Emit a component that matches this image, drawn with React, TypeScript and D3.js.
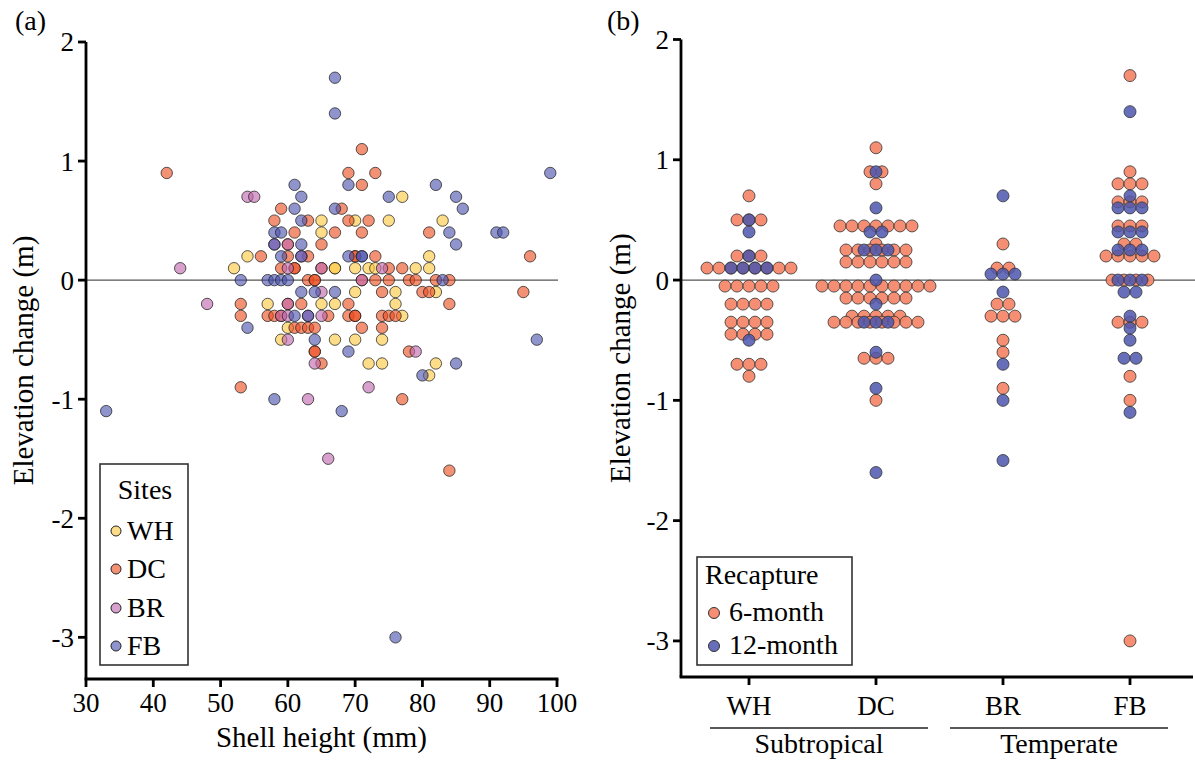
import React from 'react';
import * as d3 from 'd3';

// ---------- data ----------
const siteNames = ['WH', 'DC', 'BR', 'FB'];
const siteColors = ['#FDC840', '#EB4D20', '#C067AF', '#4B53AF'];
const groupNames = ['Subtropical', 'Temperate'];
const xTicksA = [30, 40, 50, 60, 70, 80, 90, 100];
const yTicks = [-3, -2, -1, 0, 1, 2];
const recaptureNames = ['6-month', '12-month'];
const recaptureColors = ['#F4886A', '#4C56AE'];

// Panel (a): [shell height (mm), elevation change (m)]
const whPoints: [number, number][] = [
  [77, 0.7], [65, 0.5], [70, 0.5], [75, 0.5], [83, 0.5], [65, 0.4], [54, 0.2], [81, 0.2],
  [52, 0.1], [67, 0.1], [67, 0.1], [70, 0.1], [72, 0.1], [73, 0.1], [79, 0.1], [81, 0.1],
  [70, -0.1], [76, -0.1], [82, -0.1], [57, -0.2], [65, -0.2], [67, -0.2], [76, -0.2],
  [77, -0.3], [60, -0.4], [59, -0.5], [67, -0.5], [70, -0.5], [74, -0.5],
  [72, -0.7], [74, -0.7], [82, -0.7], [81, -0.8],
];
const dcPoints: [number, number][] = [
  [71, 1.1], [42, 0.9], [69, 0.9], [73, 0.9], [71, 0.8], [59, 0.6], [68, 0.6],
  [58, 0.5], [63, 0.5], [69, 0.5], [72, 0.5], [61, 0.4], [67, 0.4], [71, 0.4], [81, 0.4],
  [60, 0.3], [65, 0.3], [56, 0.2], [60, 0.2], [63, 0.2], [70, 0.2], [70, 0.2], [73, 0.2], [96, 0.2],
  [59, 0.1], [61, 0.1], [61, 0.1], [65, 0.1], [75, 0.1], [77, 0.1],
  [63, 0], [64, 0], [64, 0], [71, 0], [73, 0], [75, 0], [78, 0], [79, 0], [82, 0], [84, 0],
  [74, -0.1], [80, -0.1], [81, -0.1], [95, -0.1],
  [53, -0.2], [60, -0.2], [62, -0.2], [69, -0.2], [84, -0.2],
  [53, -0.3], [57, -0.3], [58, -0.3], [59, -0.3], [66, -0.3], [69, -0.3], [70, -0.3], [70, -0.3],
  [74, -0.3], [75, -0.3], [76, -0.3],
  [61, -0.4], [62, -0.4], [63, -0.4], [64, -0.4], [71, -0.4], [74, -0.4],
  [64, -0.6], [64, -0.6], [78, -0.6], [65, -0.7], [53, -0.9], [77, -1.0], [84, -1.6],
];
const brPoints: [number, number][] = [
  [54, 0.7], [55, 0.7], [58, 0.3], [60, 0.3], [62, 0.2], [44, 0.1], [60, 0.1], [65, 0.1], [74, 0.1],
  [71, 0], [65, -0.1], [48, -0.2], [60, -0.2], [59, -0.3], [60, -0.3], [63, -0.3], [65, -0.3],
  [60, -0.5], [79, -0.6], [64, -0.7], [72, -0.9], [63, -1.0], [66, -1.5],
];
const fbPoints: [number, number][] = [
  [67, 1.7], [67, 1.4], [99, 0.9], [61, 0.8], [69, 0.8], [82, 0.8], [62, 0.7], [75, 0.7], [85, 0.7],
  [61, 0.6], [67, 0.6], [86, 0.6], [62, 0.5], [58, 0.4], [59, 0.4], [84, 0.4], [91, 0.4], [92, 0.4],
  [58, 0.3], [62, 0.3], [85, 0.3], [59, 0.2], [62, 0.2], [69, 0.2], [71, 0.2], [71, 0.2],
  [53, 0], [57, 0], [58, 0], [59, 0], [60, 0], [83, 0], [62, -0.1], [64, -0.1], [67, -0.1],
  [61, -0.3], [63, -0.3], [54, -0.4], [64, -0.5], [97, -0.5], [69, -0.6], [85, -0.7], [80, -0.8],
  [58, -1.0], [33, -1.1], [68, -1.1], [76, -3.0],
];
const sitePoints = [whPoints, dcPoints, brPoints, fbPoints];

// Panel (b): elevation change (m) per site and recapture
const whSixMonth = [0.7, 0.5, 0.5, 0.5, 0.2, 0.2, 0.2, 0.1, 0.1, 0.1, 0.1, 0.1, 0.1, 0.1, 0.1,
  -0.05, -0.05, -0.05, -0.05, -0.05, -0.2, -0.2, -0.2, -0.2, -0.35, -0.35, -0.35, -0.35,
  -0.45, -0.45, -0.45, -0.45, -0.7, -0.7, -0.7, -0.8];
const whTwelveMonth = [0.5, 0.4, 0.2, 0.1, 0.1, 0.1, 0.1, -0.5];
const dcSixMonth = [1.1, 0.9, 0.9, 0.8, 0.45, 0.45, 0.45, 0.45, 0.45, 0.45, 0.45, 0.3,
  0.25, 0.25, 0.25, 0.25, 0.25, 0.25, 0.15, 0.15, 0.15, 0.15, 0.15, 0.15,
  -0.05, -0.05, -0.05, -0.05, -0.05, -0.05, -0.05, -0.05, -0.05, -0.05,
  -0.15, -0.15, -0.15, -0.15, -0.15, -0.15, -0.3, -0.3, -0.3, -0.3, -0.3,
  -0.35, -0.35, -0.35, -0.35, -0.35, -0.35, -0.35, -0.35, -0.65, -0.65, -0.65, -1.0];
const dcTwelveMonth = [0.9, 0.6, 0.4, 0.4, 0.25, 0.25, 0.25, 0, -0.2, -0.35, -0.35, -0.35, -0.6, -0.9, -1.6];
const brSixMonth = [0.3, 0.1, 0.1, -0.2, -0.2, -0.3, -0.3, -0.3, -0.5, -0.6, -0.9];
const brTwelveMonth = [0.7, 0.05, 0.05, 0.05, -0.1, -0.7, -1.0, -1.5];
const fbSixMonth = [1.7, 0.9, 0.8, 0.8, 0.8, 0.65, 0.65, 0.65, 0.45, 0.45, 0.45, 0.3, 0.3,
  0.2, 0.2, 0.2, 0.2, 0.2, 0, 0, 0, 0, -0.35, -0.35, -0.35, -0.8, -1.0, -3.0];
const fbTwelveMonth = [1.4, 0.7, 0.6, 0.6, 0.6, 0.4, 0.4, 0.4, 0.25, 0.25, 0.25, 0, 0, 0,
  -0.1, -0.1, -0.3, -0.4, -0.5, -0.65, -0.65, -1.1];
const sixMonth = [whSixMonth, dcSixMonth, brSixMonth, fbSixMonth];
const twelveMonth = [whTwelveMonth, dcTwelveMonth, brTwelveMonth, fbTwelveMonth];

// ---------- layout ----------
const FONT = "'Liberation Serif', 'Times New Roman', serif";
const xA = d3.scaleLinear().domain([30, 100]).range([86, 557]);
const yA = d3.scaleLinear().domain([-3.35, 2]).range([679, 42]);
const yB = d3.scaleLinear().domain([-3.3, 2]).range([677, 39.5]);
const xB = d3.scalePoint<string>().domain(siteNames).range([749, 1130]);
const R_A = 5.7;
const R_B = 6;

function swarm(values: number[], cx: number): { x: number; y: number }[] {
  const groups = d3.group(values.map((v, i) => ({ v, i })), (d) => d.v);
  const out: { x: number; y: number }[] = [];
  groups.forEach((arr) => {
    const n = arr.length;
    arr.forEach((d, k) => {
      out.push({ x: cx + (k - (n - 1) / 2) * R_B * 2, y: yB(d.v) });
    });
  });
  return out;
}

export default function App() {
  const axisStroke = 2.8;
  return (
    <svg width={1195} height={762} style={{ position: 'absolute', left: 0, top: 0, background: '#fff' }}
      fontFamily={FONT}>
      <rect x={0} y={0} width={1195} height={762} fill="#fff" />
      {/* ---------------- Panel (a) ---------------- */}
      <text x={15} y={30} fontSize={28}>(a)</text>
      <line x1={xA(30)} x2={xA(100) + 1} y1={yA(0)} y2={yA(0)} stroke="#555" strokeWidth={1.3} />
      {sitePoints.map((pts, si) =>
        pts.map((p, i) => (
          <circle key={`a${si}-${i}`} cx={xA(p[0])} cy={yA(p[1])} r={R_A}
            fill={siteColors[si]} fillOpacity={0.62} stroke="#222" strokeOpacity={0.75} strokeWidth={1} />
        ))
      )}
      {/* axes a */}
      <line x1={xA(30)} x2={xA(30)} y1={yA(2)} y2={yA(-3.35)} stroke="#000" strokeWidth={axisStroke} />
      <line x1={xA(30) - 1.4} x2={xA(100) + 1.4} y1={yA(-3.35)} y2={yA(-3.35)} stroke="#000" strokeWidth={axisStroke} />
      {yTicks.map((t) => (
        <g key={`ya${t}`}>
          <line x1={xA(30) - 8} x2={xA(30)} y1={yA(t)} y2={yA(t)} stroke="#000" strokeWidth={axisStroke} />
          <text x={xA(30) - 12} y={yA(t)} dy="0.35em" textAnchor="end" fontSize={27}>{t < 0 ? `-${-t}` : t}</text>
        </g>
      ))}
      {xTicksA.map((t) => (
        <g key={`xa${t}`}>
          <line x1={xA(t)} x2={xA(t)} y1={yA(-3.35)} y2={yA(-3.35) + 8} stroke="#000" strokeWidth={axisStroke} />
          <text x={xA(t)} y={712} textAnchor="middle" fontSize={27}>{t}</text>
        </g>
      ))}
      <text x={(xA(30) + xA(100)) / 2} y={747} textAnchor="middle" fontSize={29}>Shell height (mm)</text>
      <text transform={`translate(33,${(yA(2) + yA(-3.35)) / 2}) rotate(-90)`} textAnchor="middle" fontSize={29}>
        Elevation change (m)
      </text>
      {/* legend a */}
      <rect x={100} y={464} width={88} height={201} fill="#fff" stroke="#333" strokeWidth={1.6} />
      <text x={145} y={499} textAnchor="middle" fontSize={28}>Sites</text>
      {siteNames.map((s, i) => {
        const cy = [531, 569, 608, 646][i];
        return (
          <g key={`la${s}`}>
            <circle cx={116} cy={cy} r={5} fill={siteColors[i]} fillOpacity={0.62} stroke="#222" strokeWidth={1} />
            <text x={127} y={cy + 9} fontSize={28}>{s}</text>
          </g>
        );
      })}

      {/* ---------------- Panel (b) ---------------- */}
      <text x={607} y={30} fontSize={28}>(b)</text>
      <line x1={681} x2={1195} y1={yB(0)} y2={yB(0)} stroke="#555" strokeWidth={1.3} />
      {siteNames.map((s, si) => (
        <g key={`b6${s}`}>
          {swarm(sixMonth[si], xB(s) as number).map((p, i) => (
            <circle key={i} cx={p.x} cy={p.y} r={R_B} fill={recaptureColors[0]} fillOpacity={0.95}
              stroke="#333" strokeOpacity={0.8} strokeWidth={1} />
          ))}
        </g>
      ))}
      {siteNames.map((s, si) => (
        <g key={`b12${s}`}>
          {swarm(twelveMonth[si], xB(s) as number).map((p, i) => (
            <circle key={i} cx={p.x} cy={p.y} r={R_B} fill={recaptureColors[1]} fillOpacity={0.85}
              stroke="#333" strokeOpacity={0.8} strokeWidth={1} />
          ))}
        </g>
      ))}
      {/* axes b */}
      <line x1={681} x2={681} y1={yB(2)} y2={yB(-3.3)} stroke="#000" strokeWidth={axisStroke} />
      <line x1={681 - 1.4} x2={1193} y1={yB(-3.3)} y2={yB(-3.3)} stroke="#000" strokeWidth={axisStroke} />
      {yTicks.map((t) => (
        <g key={`yb${t}`}>
          <line x1={681 - 8} x2={681} y1={yB(t)} y2={yB(t)} stroke="#000" strokeWidth={axisStroke} />
          <text x={681 - 12} y={yB(t)} dy="0.35em" textAnchor="end" fontSize={27}>{t < 0 ? `-${-t}` : t}</text>
        </g>
      ))}
      {siteNames.map((s) => (
        <g key={`xb${s}`}>
          <line x1={xB(s)} x2={xB(s)} y1={yB(-3.3)} y2={yB(-3.3) + 8} stroke="#000" strokeWidth={axisStroke} />
          <text x={xB(s)} y={715} textAnchor="middle" fontSize={27}>{s}</text>
        </g>
      ))}
      {groupNames.map((g, gi) => {
        const a = xB(siteNames[gi * 2]) as number;
        const b = xB(siteNames[gi * 2 + 1]) as number;
        const x1 = gi === 0 ? a - 39 : a - 53;
        const x2 = gi === 0 ? b + 52 : b + 38;
        return (
          <g key={g}>
            <line x1={x1} x2={x2} y1={728} y2={728} stroke="#222" strokeWidth={1.5} />
            <text x={(x1 + x2) / 2} y={753} textAnchor="middle" fontSize={28}>{g}</text>
          </g>
        );
      })}
      <text transform={`translate(630,${(yB(2) + yB(-3.3)) / 2}) rotate(-90)`} textAnchor="middle" fontSize={29}>
        Elevation change (m)
      </text>
      {/* legend b */}
      <rect x={697} y={557} width={155} height={108} fill="#fff" stroke="#333" strokeWidth={1.6} />
      <text x={705} y={584} fontSize={28}>Recapture</text>
      {recaptureNames.map((n, i) => {
        const cy = [613, 646][i];
        return (
          <g key={`lb${n}`}>
            <circle cx={714} cy={cy} r={5.5} fill={recaptureColors[i]} fillOpacity={i === 0 ? 0.95 : 0.85}
              stroke="#333" strokeWidth={1} />
            <text x={729} y={cy + 8} fontSize={28}>{n}</text>
          </g>
        );
      })}
    </svg>
  );
}
